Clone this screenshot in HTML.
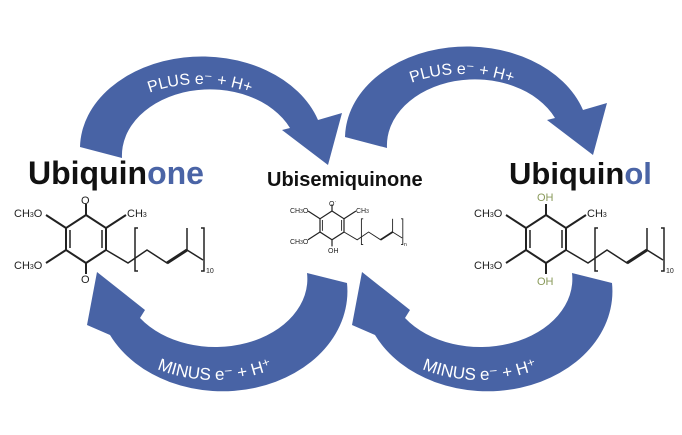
<!DOCTYPE html>
<html><head><meta charset="utf-8"><style>
html,body{margin:0;padding:0;background:#fff;}
svg{display:block;}
</style></head><body>
<svg width="682" height="435" viewBox="0 0 682 435" xmlns="http://www.w3.org/2000/svg" font-family="Liberation Sans, sans-serif">
<defs>
<g id="arrTop">
<path d="M80,147 A122,92 0 0 1 318,120 L342,113 L328,165 L282,130 L290,128 A88,66 0 0 0 122,158 Z" fill="#4863a5"/>
</g>
<g id="arrBot">
<path d="M347,283 A125,100 0 0 1 110,335 L87,325 L97,272 L145,310 L140,318 A92,68 0 0 0 307,273 Z" fill="#4863a5"/>
</g>
<path id="tp1" d="M92,160 A108,76 0 0 1 308,160" fill="none"/>
<path id="tp2" d="M354,150 A108,76 0 0 1 570,150" fill="none"/>
<path id="bp1" d="M98,296 A117,84 0 0 0 332,296" fill="none"/>
<path id="bp2" d="M363,296 A117,84 0 0 0 597,296" fill="none"/>
<g id="mol" stroke="#222" stroke-width="2" fill="none">
<polygon points="86,215 106,228 106,250 86,263 66,250 66,228"/>
<line x1="70" y1="230" x2="70" y2="248" stroke-width="1.5"/>
<line x1="102" y1="230" x2="102" y2="248" stroke-width="1.5"/>
<line x1="86" y1="215" x2="86" y2="204"/>
<line x1="86" y1="263" x2="86" y2="274"/>
<line x1="66" y1="228" x2="46" y2="215"/>
<line x1="66" y1="250" x2="46" y2="263"/>
<line x1="106" y1="228" x2="126" y2="215"/>
<polyline points="106,250 128,263 147,250 167,263 187,250 203,260" stroke-width="1.5"/>
<line x1="167" y1="263" x2="187" y2="250" stroke-width="3"/>
<line x1="187" y1="250" x2="187" y2="228" stroke-width="1.5"/>
<polyline points="138,228 135,228 135,271 138,271" stroke-width="1.5"/>
<polyline points="201,228 204,228 204,271 201,271" stroke-width="1.5"/>
</g>
</defs>

<use href="#arrTop"/>
<use href="#arrTop" transform="translate(265,-10)"/>
<use href="#arrBot"/>
<use href="#arrBot" transform="translate(265,0)"/>

<text font-size="16" fill="#fff"><textPath href="#tp1" startOffset="50%" text-anchor="middle">PLUS e⁻ + H+</textPath></text>
<text font-size="16" fill="#fff"><textPath href="#tp2" startOffset="50%" text-anchor="middle">PLUS e⁻ + H+</textPath></text>
<text font-size="17" fill="#fff"><textPath href="#bp1" startOffset="50%" text-anchor="middle">MINUS e⁻ + H⁺</textPath></text>
<text font-size="17" fill="#fff"><textPath href="#bp2" startOffset="50%" text-anchor="middle">MINUS e⁻ + H⁺</textPath></text>

<text x="28" y="184" font-size="32" font-weight="bold" fill="#111">Ubiquin<tspan fill="#4a64a6">one</tspan></text>
<text x="509" y="184" font-size="31" font-weight="bold" fill="#111">Ubiquin<tspan fill="#4a64a6">ol</tspan></text>
<text x="267" y="186" font-size="20" font-weight="bold" fill="#111">Ubisemiquinone</text>

<use href="#mol"/>
<g font-size="11" fill="#222">
<text x="81" y="204">O</text><text x="81" y="283">O</text>
<text x="14" y="217">CH<tspan font-size="7">3</tspan>O</text>
<text x="14" y="269">CH<tspan font-size="7">3</tspan>O</text>
<text x="127" y="217">CH<tspan font-size="7">3</tspan></text>
<text x="206" y="273" font-size="7">10</text>
</g>
<use href="#mol" transform="translate(460,0)"/>
<g font-size="11" fill="#222">
<text x="537" y="201" fill="#8a9a5b">OH</text><text x="537" y="285" fill="#8a9a5b">OH</text>
<text x="474" y="217">CH<tspan font-size="7">3</tspan>O</text>
<text x="474" y="269">CH<tspan font-size="7">3</tspan>O</text>
<text x="587" y="217">CH<tspan font-size="7">3</tspan></text>
<text x="666" y="273" font-size="7">10</text>
</g>
<use href="#mol" transform="translate(280.4,82) scale(0.6)"/>
<g font-size="7" fill="#222">
<text x="329" y="206">O<tspan font-size="5" dy="-3">·</tspan></text>
<text x="328" y="253">OH</text>
<text x="290" y="213">CH<tspan font-size="5">3</tspan>O</text>
<text x="290" y="244">CH<tspan font-size="5">3</tspan>O</text>
<text x="356" y="213">CH<tspan font-size="5">3</tspan></text>
<text x="404" y="246" font-size="5">n</text>
</g>
</svg>
</body></html>
